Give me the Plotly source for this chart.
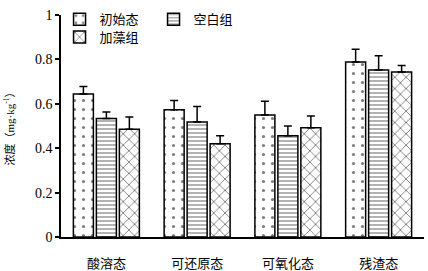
import plotly.graph_objects as go

categories = ["酸溶态", "可还原态", "可氧化态", "残渣态"]
series_names = ["初始态", "空白组", "加藻组"]
initial = [0.644, 0.573, 0.549, 0.788]
initial_err = [0.034, 0.042, 0.063, 0.058]
blank = [0.534, 0.518, 0.456, 0.752]
blank_err = [0.029, 0.070, 0.044, 0.065]
algae = [0.485, 0.420, 0.492, 0.743]
algae_err = [0.056, 0.036, 0.053, 0.030]

FONT = "Liberation Serif, Noto Sans CJK SC"
patterns = [dict(shape=".", size=9, solidity=0.1),
            dict(shape="-", size=4, solidity=0.3),
            dict(shape="x", size=8, solidity=0.22)]
values = [initial, blank, algae]
errs = [initial_err, blank_err, algae_err]
legends = ["legend", "legend", "legend2"]

fig = go.Figure()
for name, v, e, p, lg in zip(series_names, values, errs, patterns, legends):
    fig.add_trace(go.Bar(
        x=categories, y=v, name=name, legend=lg,
        marker=dict(color="white", line=dict(color="black", width=1.5),
                    pattern=dict(fgcolor="black", bgcolor="white", **p)),
        error_y=dict(type="data", array=e, arrayminus=[0] * len(e), symmetric=False,
                     color="black", thickness=1.5, width=4),
    ))

fig.update_layout(
    width=428, height=271,
    margin=dict(l=61, r=4, t=12, b=34),
    paper_bgcolor="white", plot_bgcolor="white",
    barmode="group", bargap=0.24, bargroupgap=0.13,
    font=dict(family=FONT, color="black", size=13),
    legend=dict(orientation="h", x=-0.004, y=1.048, xanchor="left", yanchor="top",
                bgcolor="rgba(0,0,0,0)", font=dict(size=13, color="black"), entrywidth=49,
                itemwidth=30, tracegroupgap=0),
    legend2=dict(orientation="h", x=-0.004, y=0.968, xanchor="left", yanchor="top",
                 bgcolor="rgba(0,0,0,0)", font=dict(size=13, color="black"), itemwidth=30),
    xaxis=dict(showline=True, linecolor="black", linewidth=1.5, ticks="",
               ticklabelstandoff=14, tickfont=dict(size=13, color="black"), automargin=False),
    yaxis=dict(range=[0, 1], tickvals=[0, 0.2, 0.4, 0.6, 0.8, 1],
               ticktext=["0", "0.2", "0.4", "0.6", "0.8", "1"],
               showline=True, linecolor="black", linewidth=1.5, ticks="outside",
               ticklen=4, tickwidth=1.5, tickcolor="black", showgrid=False,
               zeroline=False, tickfont=dict(size=14, color="black"), automargin=False,
               title=dict(text="浓度（mg·kg<sup>-1</sup>）", font=dict(size=11, color="black"), standoff=18)),
)

fig.write_html("out.html", config={"displayModeBar": False},
               post_script="document.body.style.margin='0';")
